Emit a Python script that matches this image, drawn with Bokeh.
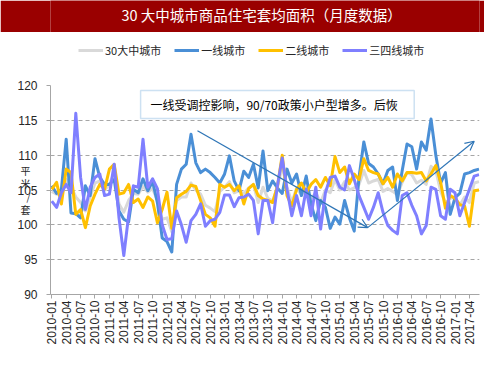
import math
from bokeh.plotting import figure
from bokeh.models import (ColumnDataSource, FixedTicker, Legend, LegendItem,
                          BoxAnnotation, Label, Arrow, OpenHead, Range1d)
from bokeh.layouts import column
from bokeh.embed import file_html
from bokeh.resources import INLINE

# ---------------- data ----------------
TITLE = "30 大中城市商品住宅套均面积（月度数据）"
NOTE = "一线受调控影响，90/70政策小户型增多。后恢"
SERIES_NAMES = ["30大中城市", "一线城市", "二线城市", "三四线城市"]
Y_LABEL = "平\n米\n/\n套"

TICK_LABELS = [
    "2010-01", "2010-04", "2010-07", "2010-10",
    "2011-01", "2011-04", "2011-07", "2011-10",
    "2012-01", "2012-04", "2012-07", "2012-10",
    "2013-01", "2013-04", "2013-07", "2013-10",
    "2014-01", "2014-04", "2014-07", "2014-10",
    "2015-01", "2015-04", "2015-07", "2015-10",
    "2016-01", "2016-04", "2016-07", "2016-10",
    "2017-01", "2017-04",
]
TICK_POS = [0, 3, 6, 9, 12, 15, 18, 21, 24, 27, 30, 33, 36, 39, 42, 45,
            48, 51, 54, 57, 60, 63, 66, 69, 72, 75, 78, 81, 84, 87]
Y_TICKS = [90, 95, 100, 105, 110, 115, 120]

city30 = [104.8, 104.4, 104.2, 106.5, 105.5, 104.0, 103.2, 102.0, 104.0, 106.0, 106.3, 105.0, 105.8, 107.5, 103.0,
          101.8, 103.5, 104.5, 104.4, 105.5, 104.7, 105.2, 103.5, 100.8, 101.0, 99.0, 103.5, 104.0, 104.0, 106.0,
          105.0, 104.4, 102.8, 102.4, 101.9, 104.8, 105.4, 106.2, 104.6, 104.9, 104.5, 105.3, 105.8, 103.2, 105.4,
          103.8, 103.4, 105.4, 108.3, 105.4, 103.2, 105.3, 104.3, 105.3, 103.8, 104.6, 103.2, 105.0, 104.6, 106.5,
          105.0, 106.2, 105.0, 105.3, 105.8, 107.8, 106.0, 106.3, 106.5, 104.8, 105.2, 104.8, 104.3, 106.1, 107.5,
          107.2, 106.0, 106.4, 105.8, 108.4, 107.8, 104.8, 103.2, 103.8, 104.0, 102.8, 104.0, 103.2, 106.0, 106.2]

tier1 = [105.6, 104.5, 105.1, 112.3, 101.7, 101.6, 101.0, 105.6, 104.2, 109.5, 106.8, 105.8, 105.8, 106.5, 102.0,
         100.8, 100.4, 105.1, 104.6, 106.6, 104.9, 106.2, 103.2, 98.1, 97.6, 96.1, 105.8, 108.0, 108.7, 113.0,
         108.9, 107.5, 108.0, 107.5, 106.8, 106.0, 107.3, 109.9, 106.3, 104.9, 107.7, 106.8, 108.7, 105.3, 110.6,
         104.9, 106.3, 105.3, 104.5, 108.0, 106.0, 107.3, 104.2, 107.0, 103.0, 100.6, 103.5, 102.5, 99.5, 101.1,
         100.1, 103.5, 101.0, 99.1, 106.8, 111.9, 108.8, 108.3, 107.3, 105.9, 107.8, 108.3, 103.5, 107.8, 111.6,
         111.2, 108.0, 111.9, 110.7, 115.2, 110.0, 106.0, 107.5, 101.5, 103.9, 104.5, 107.3, 107.5, 107.8, 108.0]

tier2 = [105.1, 106.1, 103.0, 108.0, 107.5, 101.5, 102.2, 99.6, 102.7, 104.4, 105.8, 105.1, 108.0, 108.7, 104.4,
         104.6, 105.8, 103.2, 103.7, 102.5, 104.0, 103.4, 100.3, 102.2, 104.7, 99.5, 103.9, 104.4, 104.8, 105.7,
         105.5, 103.5, 101.5, 101.0, 99.8, 105.8, 105.4, 105.8, 104.9, 105.6, 103.0, 105.2, 105.8, 104.2, 103.7,
         103.5, 103.2, 105.5, 110.0, 104.2, 102.7, 105.1, 106.0, 104.6, 105.8, 106.5, 105.4, 106.8, 105.6, 109.8,
         107.5, 108.3, 105.9, 107.3, 106.5, 109.5, 107.8, 107.5, 107.3, 105.9, 106.8, 105.4, 107.3, 106.3, 107.5,
         107.5, 107.4, 107.5, 106.3, 107.3, 108.5, 106.1, 102.4, 104.2, 103.8, 102.9, 102.7, 99.8, 104.9, 105.0]

tier34 = [103.4, 102.5, 104.6, 105.8, 104.6, 116.0, 106.8, 102.2, 105.4, 106.8, 107.3, 104.2, 104.4, 108.7, 101.0,
          95.6, 101.3, 105.6, 105.4, 112.3, 105.4, 106.6, 105.2, 100.0, 97.9, 98.0, 102.0, 100.0, 97.5, 100.6,
          101.5, 103.0, 99.8, 100.6, 100.8, 101.8, 104.3, 104.3, 102.6, 103.9, 104.0, 104.4, 103.5, 98.7, 103.5,
          103.5, 100.3, 105.6, 109.6, 105.1, 101.3, 104.2, 101.3, 105.1, 101.3, 105.4, 99.4, 104.6, 106.8, 107.0,
          105.4, 105.0, 108.5, 106.5, 104.2, 102.5, 100.8, 102.5, 104.6, 101.8, 99.9, 99.2, 98.7, 104.2, 104.6,
          102.8, 101.3, 98.7, 99.9, 105.4, 105.1, 101.3, 100.8, 105.1, 104.6, 101.3, 103.2, 105.1, 107.0, 107.2]

months = list(range(len(tier1)))

# annotation geometry (data units)
BOX = dict(left=18.5, right=75.5, bottom=115.25, top=119.27)
NOTE_POS = (46.3, 117.26)
ARROW1 = (30.35, 113.5, 65.8, 99.6)
ARROW2 = (65.8, 99.6, 88.0, 112.0)

# ---------------- style ----------------
BAR = "#9a0000"
COLORS = ["#d9d9d9", "#4a8fd6", "#ffc000", "#7f7fff"]
AXIS_C = "#a6a6a6"
TEXT_C = "#262626"
ARROW_C = "#2e75b6"
CJK = "Noto Sans CJK SC"
W = 484

# ---- title bar ----
top = figure(width=W, height=32, x_range=Range1d(0, 1), y_range=Range1d(0, 1),
             x_axis_type=None, y_axis_type=None, toolbar_location=None,
             output_backend="svg", min_border=0, outline_line_color=None,
             background_fill_color=BAR, border_fill_color=BAR)
top.add_layout(Label(x=0.492, y=0.56, text=TITLE, text_color="white",
                     text_font_size="14.5px", text_font=CJK,
                     text_align="center", text_baseline="middle"))

# ---- legend strip (legend swatches take the series' styles) ----
lg = figure(width=W, height=36, x_range=Range1d(0, 1), y_range=Range1d(0, 1),
            x_axis_type=None, y_axis_type=None, toolbar_location=None,
            output_backend="svg", min_border=0, outline_line_color=None,
            background_fill_color="white", border_fill_color="white")
lg_renderers = [lg.line(x=[-2, -1], y=[-2, -2], line_color=c, line_width=3) for c in COLORS]
legend = Legend(items=[LegendItem(label=n, renderers=[r]) for n, r in zip(SERIES_NAMES, lg_renderers)],
                orientation="horizontal", location="center_left",
                glyph_width=25, glyph_height=16, label_height=16, label_standoff=2, spacing=13,
                padding=0, margin=28, border_line_color=None, background_fill_alpha=0,
                label_text_font=CJK, label_text_font_size="11px", label_text_color=TEXT_C)
lg.add_layout(legend)

# ---- main chart ----
p = figure(width=W, height=291, x_range=Range1d(-0.27, 89.1), y_range=Range1d(90, 120),
           toolbar_location=None, output_backend="svg",
           min_border_left=50, min_border_right=5, min_border_top=17, min_border_bottom=65,
           outline_line_color=None, background_fill_color="white", border_fill_color="white")

source = ColumnDataSource(dict(x=months, c30=city30, t1=tier1, t2=tier2, t34=tier34))
for key, col in zip(["c30", "t1", "t2", "t34"], COLORS):
    p.line(x="x", y=key, source=source, line_color=col, line_width=3, line_join="round")

# axes
p.xaxis.ticker = FixedTicker(ticks=TICK_POS)
p.xaxis.major_label_overrides = {pos: lab for pos, lab in zip(TICK_POS, TICK_LABELS)}
p.xaxis.major_label_orientation = math.pi / 2
p.xaxis.major_label_text_font_size = "12px"
p.xaxis.major_label_text_font = "Liberation Sans"
p.xaxis.major_label_text_color = TEXT_C
p.xaxis.major_label_standoff = 2
p.xaxis.axis_line_color = AXIS_C
p.xaxis.major_tick_line_color = AXIS_C
p.xaxis.major_tick_out = 4
p.xaxis.major_tick_in = 0
p.xaxis.minor_tick_line_color = None

p.yaxis.ticker = FixedTicker(ticks=Y_TICKS)
p.yaxis.major_label_text_font_size = "12px"
p.yaxis.major_label_text_font = "Liberation Sans"
p.yaxis.major_label_text_color = TEXT_C
p.yaxis.major_label_standoff = 9
p.yaxis.axis_line_color = AXIS_C
p.yaxis.major_tick_line_color = AXIS_C
p.yaxis.major_tick_out = 4
p.yaxis.major_tick_in = 0
p.yaxis.minor_tick_line_color = None
p.yaxis.axis_label = Y_LABEL
p.yaxis.axis_label_orientation = "horizontal"
p.yaxis.axis_label_text_font = CJK
p.yaxis.axis_label_text_font_size = "10px"
p.yaxis.axis_label_text_font_style = "normal"
p.yaxis.axis_label_text_line_height = 0.85
p.yaxis.axis_label_text_baseline = "middle"
p.yaxis.axis_label_text_color = TEXT_C
p.yaxis.axis_label_standoff = -16

p.xgrid.visible = False
p.ygrid.grid_line_color = AXIS_C
p.ygrid.grid_line_dash = "4 3"
p.ygrid.grid_line_width = 1

# annotation
p.add_layout(BoxAnnotation(fill_color="white", fill_alpha=1.0, line_color="#5b9bd5",
                           line_width=1.5, **BOX))
p.add_layout(Label(x=NOTE_POS[0], y=NOTE_POS[1], text=NOTE, text_align="center",
                   text_baseline="middle", text_font=CJK, text_font_size="12px",
                   text_color="black"))
for (x0, y0, x1, y1) in (ARROW1, ARROW2):
    p.add_layout(Arrow(end=OpenHead(size=9, line_color=ARROW_C, line_width=1.2),
                       x_start=x0, y_start=y0, x_end=x1, y_end=y1,
                       line_color=ARROW_C, line_width=1.2))

layout = column(top, lg, p, spacing=0)
open("out.html", "w").write(file_html(layout, INLINE))
